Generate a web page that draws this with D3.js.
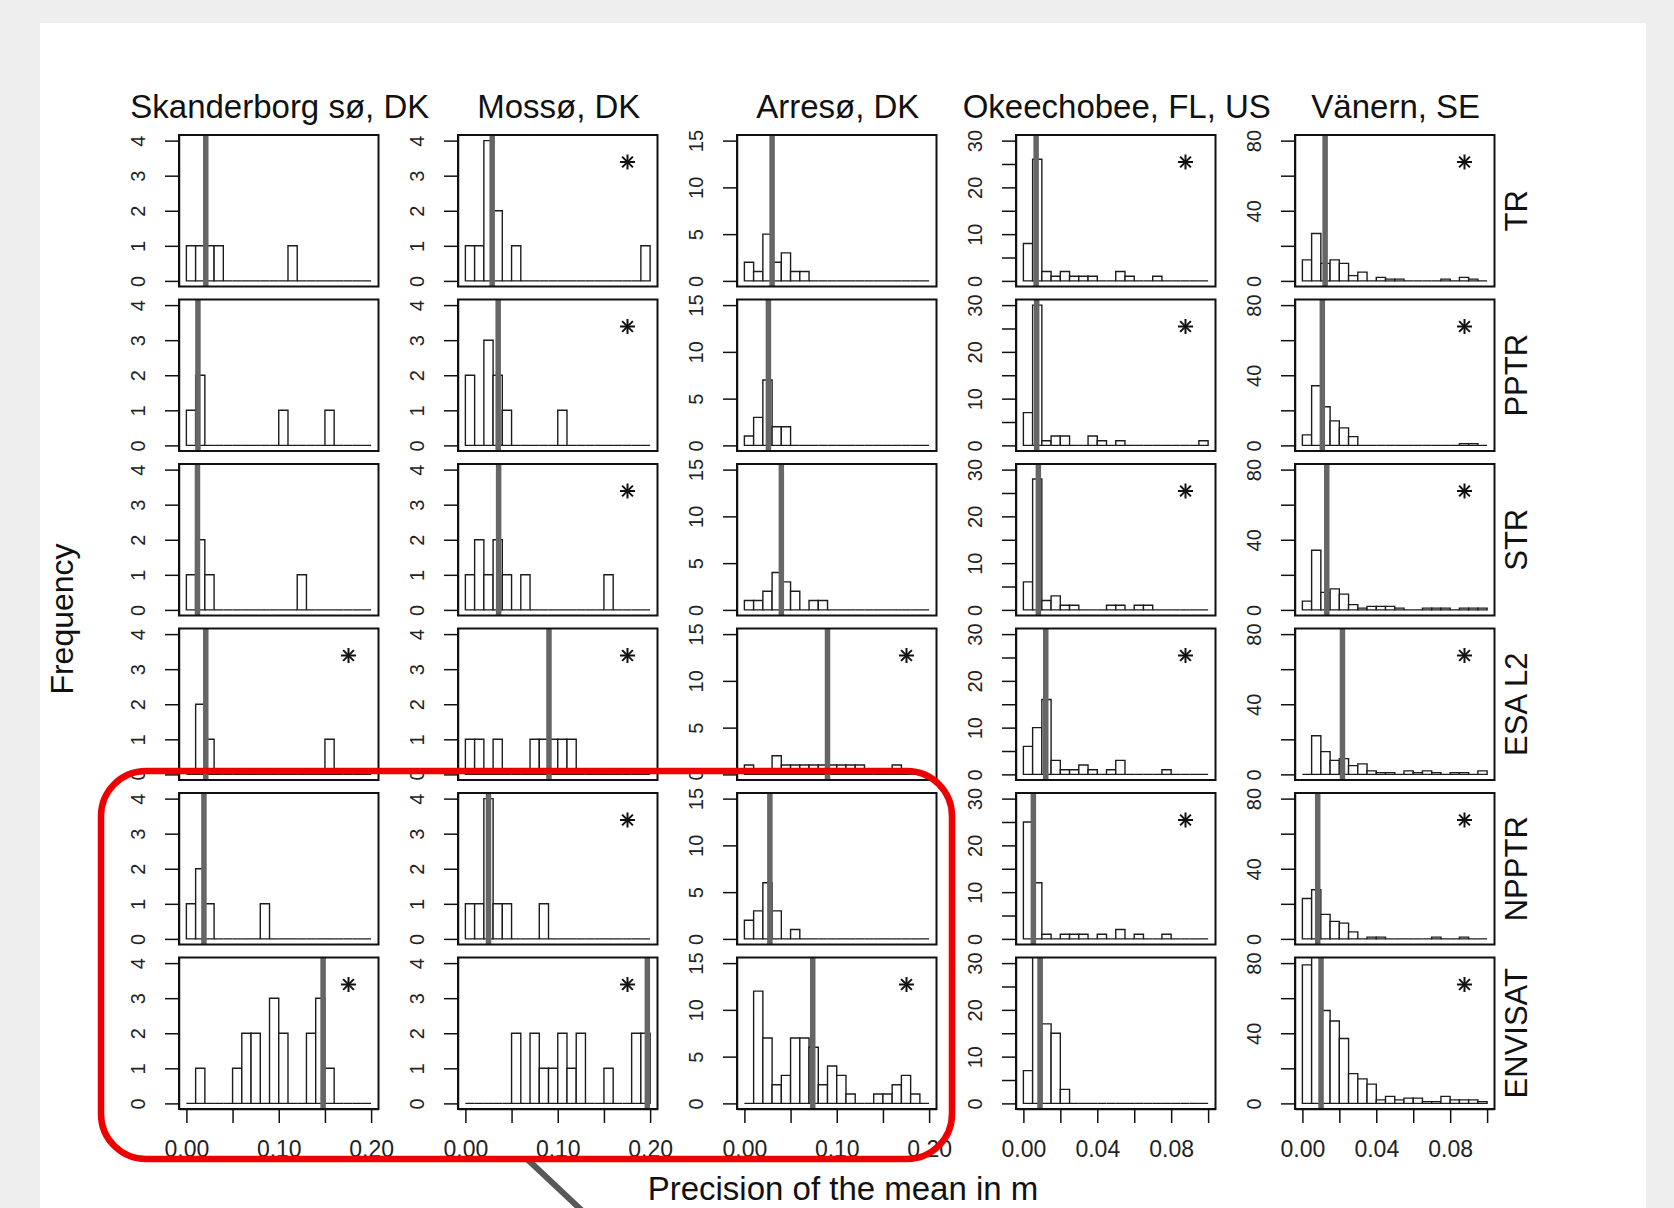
<!DOCTYPE html>
<html><head><meta charset="utf-8">
<script src="https://cdn.jsdelivr.net/npm/d3@7"></script>
<style>html,body{margin:0;padding:0;background:#eeeeee;} svg{display:block;}</style>
</head><body><svg id="chart" width="1674" height="1208"></svg>
<script>
// ---------- DATA ----------
const lakes = ["Skanderborg sø, DK", "Mossø, DK", "Arresø, DK", "Okeechobee, FL, US", "Vänern, SE"];
const methods = ["TR", "PPTR", "STR", "ESA L2", "NPPTR", "ENVISAT"];
const binWidth = [0.01, 0.01, 0.01, 0.005, 0.005];
const xMax = [0.2, 0.2, 0.2, 0.1, 0.1];
const yMax = [4, 4, 15, 30, 80];
const yTicks = [[0,1,2,3,4],[0,1,2,3,4],[0,5,10,15],[0,5,10,15,20,25,30],[0,20,40,60,80]];
const yTickLabels = [["0","1","2","3","4"],["0","1","2","3","4"],["0","5","10","15"],["0","","10","","20","","30"],["0","","40","","80"]];
const xTicks = [[0,0.05,0.1,0.15,0.2],[0,0.05,0.1,0.15,0.2],[0,0.05,0.1,0.15,0.2],[0,0.02,0.04,0.06,0.08,0.1],[0,0.02,0.04,0.06,0.08,0.1]];
const xTickLabels = [["0.00","","0.10","","0.20"],["0.00","","0.10","","0.20"],["0.00","","0.10","","0.20"],["0.00","","0.04","","0.08",""],["0.00","","0.04","","0.08",""]];
const xAxisTitle = "Precision of the mean in m";
const yAxisTitle = "Frequency";

// counts per bin (rows: TR, PPTR, STR, ESA L2, NPPTR, ENVISAT)
const countsSkanderborg = [
  [1,1,1,1,0,0,0,0,0,0,0,1,0,0,0,0,0,0,0,0],
  [1,2,0,0,0,0,0,0,0,0,1,0,0,0,0,1,0,0,0,0],
  [1,2,1,0,0,0,0,0,0,0,0,0,1,0,0,0,0,0,0,0],
  [0,2,1,0,0,0,0,0,0,0,0,0,0,0,0,1,0,0,0,0],
  [1,2,1,0,0,0,0,0,1,0,0,0,0,0,0,0,0,0,0,0],
  [0,1,0,0,0,1,2,2,0,3,2,0,0,2,3,1,0,0,0,0]
];
const countsMosso = [
  [1,1,4,2,0,1,0,0,0,0,0,0,0,0,0,0,0,0,0,1],
  [2,0,3,2,1,0,0,0,0,0,1,0,0,0,0,0,0,0,0,0],
  [1,2,1,2,1,0,1,0,0,0,0,0,0,0,0,1,0,0,0,0],
  [1,1,0,1,0,0,0,1,1,1,1,1,0,0,0,0,0,0,0,0],
  [1,1,4,1,1,0,0,0,1,0,0,0,0,0,0,0,0,0,0,0],
  [0,0,0,0,0,2,0,2,1,1,2,1,2,0,0,1,0,0,2,2]
];
const countsArreso = [
  [2,1,5,2,3,1,1,0,0,0,0,0,0,0,0,0,0,0,0,0],
  [1,3,7,2,2,0,0,0,0,0,0,0,0,0,0,0,0,0,0,0],
  [1,1,2,4,3,2,0,1,1,0,0,0,0,0,0,0,0,0,0,0],
  [1,0,0,2,1,1,1,1,1,1,1,1,1,0,0,0,1,0,0,0],
  [2,3,6,3,0,1,0,0,0,0,0,0,0,0,0,0,0,0,0,0],
  [0,12,7,2,3,7,7,6,2,4,3,1,0,0,1,1,2,3,1,0]
];
const countsOkeechobee = [
  [8,26,2,1,2,1,1,1,0,0,2,1,0,0,1,0,0,0,0,0],
  [7,30,1,2,2,0,0,2,1,0,1,0,0,0,0,0,0,0,0,1],
  [6,28,2,3,1,1,0,0,0,1,1,0,1,1,0,0,0,0,0,0],
  [6,10,16,3,1,1,2,1,0,1,3,0,0,0,0,1,0,0,0,0],
  [25,12,1,0,1,1,1,0,1,0,2,0,1,0,0,1,0,0,0,0],
  [7,33,17,15,3,0,0,0,0,0,0,0,0,0,0,0,0,0,0,0]
];
const countsVanern = [
  [12,27,10,12,10,3,5,0,2,1,1,0,0,0,0,1,0,2,1,0],
  [6,34,22,14,10,5,0,0,0,0,0,0,0,0,0,0,0,1,1,0],
  [5,34,10,12,9,3,1,2,2,2,1,0,0,1,1,1,0,1,1,1],
  [0,22,13,8,9,5,6,2,1,1,0,2,1,2,1,0,1,1,0,2],
  [23,28,14,10,9,4,0,1,1,0,0,0,0,0,1,0,0,1,0,0],
  [79,85,53,47,37,17,14,11,2,4,2,3,3,1,1,4,2,2,2,1]
];
// mean precision (grey vertical line)
const meanSkanderborg = [0.021, 0.0125, 0.012, 0.021, 0.019, 0.148];
const meanMosso = [0.029, 0.0355, 0.036, 0.0905, 0.025, 0.197];
const meanArreso = [0.030, 0.026, 0.040, 0.090, 0.0276, 0.074];
const meanOkeechobee = [0.0069, 0.0072, 0.0081, 0.0121, 0.0054, 0.009];
const meanVanern = [0.0123, 0.0108, 0.0132, 0.0217, 0.0083, 0.0101];
// significance star (1 = shown)
const starSkanderborg = [0,0,0,1,0,1];
const starMosso = [1,1,1,1,1,1];
const starArreso = [0,0,0,1,0,1];
const starOkeechobee = [1,1,1,1,1,0];
const starVanern = [1,1,1,1,1,1];

const counts = [countsSkanderborg, countsMosso, countsArreso, countsOkeechobee, countsVanern];
const means = [meanSkanderborg, meanMosso, meanArreso, meanOkeechobee, meanVanern];
const stars = [starSkanderborg, starMosso, starArreso, starOkeechobee, starVanern];

// ---------- LAYOUT ----------
const FONT = "'Liberation Sans', Arial, Helvetica, sans-serif";
const svg = d3.select("#chart");
svg.append("rect").attr("x",0).attr("y",0).attr("width",1674).attr("height",1208).attr("fill","#eeeeee");
svg.append("rect").attr("x",40).attr("y",23).attr("width",1606).attr("height",1200).attr("fill","#ffffff");

const col0 = 179, colStep = 279, boxW = 199.5;
const row0 = 135, rowStep = 164.5, boxH = 151.5;
const defs = svg.append("defs");

lakes.forEach((lake, c) => {
  const left = col0 + c*colStep;
  svg.append("text").attr("x", left + boxW/2 + 1).attr("y", 118)
    .attr("text-anchor","middle").attr("font-family",FONT).attr("font-size",33)
    .attr("fill","#111").text(lake);

  methods.forEach((m, r) => {
    const top = row0 + r*rowStep;
    const x = d3.scaleLinear().domain([-0.04*xMax[c], 1.04*xMax[c]]).range([left, left+boxW]);
    const y = d3.scaleLinear().domain([-0.04*yMax[c], 1.04*yMax[c]]).range([top+boxH, top]);
    const id = `clip-${c}-${r}`;
    defs.append("clipPath").attr("id", id).append("rect")
      .attr("x", left).attr("y", top).attr("width", boxW).attr("height", boxH);
    const g = svg.append("g");
    const plot = g.append("g").attr("clip-path", `url(#${id})`);
    const bins = counts[c][r].map((v,k) => ({x0: k*binWidth[c], x1: (k+1)*binWidth[c], n: v}));
    plot.selectAll("path.bar").data(bins).join("path").attr("class","bar")
      .attr("d", d => {
        const p = d3.path();
        p.moveTo(x(d.x0), y(0)); p.lineTo(x(d.x0), y(d.n));
        p.lineTo(x(d.x1), y(d.n)); p.lineTo(x(d.x1), y(0)); p.closePath();
        return p.toString();
      })
      .attr("fill","#fff").attr("stroke","#1c1c1c").attr("stroke-width",1.4);
    plot.append("line").attr("x1", x(means[c][r])).attr("x2", x(means[c][r]))
      .attr("y1", top).attr("y2", top+boxH)
      .attr("stroke","#666").attr("stroke-width",5.5);
    g.append("rect").attr("x",left).attr("y",top).attr("width",boxW).attr("height",boxH)
      .attr("fill","none").attr("stroke","#111").attr("stroke-width",2);
    const ya = g.append("g").attr("transform",`translate(${left},0)`)
      .call(d3.axisLeft(y).tickValues(yTicks[c]).tickSize(14).tickSizeOuter(0)
        .tickFormat((d,i) => yTickLabels[c][i]));
    ya.select(".domain").attr("stroke","#111").attr("stroke-width",1.5);
    ya.selectAll(".tick line").attr("stroke","#111").attr("stroke-width",1.5);
    ya.selectAll(".tick text").attr("x",null).attr("dy",null)
      .attr("transform","translate(-41,0) rotate(-90)")
      .attr("text-anchor","middle").attr("dominant-baseline","central")
      .attr("font-family",FONT).attr("font-size",20).attr("fill","#222");
    if (stars[c][r]) {
      const sx = left + boxW - 30, sy = top + 27, s = 7.5;
      const st = g.append("g").attr("stroke","#111").attr("stroke-width",2);
      st.append("line").attr("x1",sx-s).attr("x2",sx+s).attr("y1",sy).attr("y2",sy);
      st.append("line").attr("x1",sx).attr("x2",sx).attr("y1",sy-s).attr("y2",sy+s);
      const d = s*0.72;
      st.append("line").attr("x1",sx-d).attr("x2",sx+d).attr("y1",sy-d).attr("y2",sy+d);
      st.append("line").attr("x1",sx-d).attr("x2",sx+d).attr("y1",sy+d).attr("y2",sy-d);
    }
    if (r === methods.length-1) {
      const xa = g.append("g").attr("transform",`translate(0,${top+boxH})`)
        .call(d3.axisBottom(x).tickValues(xTicks[c]).tickSize(14).tickSizeOuter(0)
          .tickFormat((d,i) => xTickLabels[c][i]));
      xa.select(".domain").attr("stroke","#111").attr("stroke-width",1.5);
      xa.selectAll(".tick line").attr("stroke","#111").attr("stroke-width",1.5);
      xa.selectAll(".tick text").attr("y",null).attr("dy",null)
        .attr("transform","translate(0,48)")
        .attr("font-family",FONT).attr("font-size",23).attr("fill","#222");
    }
    if (c === lakes.length-1) {
      svg.append("text").attr("transform",`translate(1516,${top+boxH/2}) rotate(-90)`)
        .attr("text-anchor","middle").attr("dominant-baseline","central")
        .attr("font-family",FONT).attr("font-size",31).attr("fill","#111").text(m);
    }
  });
});

svg.append("text").attr("x",843).attr("y",1200).attr("text-anchor","middle")
  .attr("font-family",FONT).attr("font-size",33).attr("fill","#111").text(xAxisTitle);
svg.append("text").attr("transform","translate(62,619) rotate(-90)")
  .attr("text-anchor","middle").attr("dominant-baseline","central")
  .attr("font-family",FONT).attr("font-size",32).attr("fill","#111").text(yAxisTitle);

svg.append("line").attr("x1",526).attr("y1",1158).attr("x2",592).attr("y2",1220)
  .attr("stroke","#585858").attr("stroke-width",6);
svg.append("rect").attr("x",101).attr("y",771).attr("width",851).attr("height",388)
  .attr("rx",45).attr("ry",45).attr("fill","none").attr("stroke","#ee0000").attr("stroke-width",6.5);
</script></body></html>
